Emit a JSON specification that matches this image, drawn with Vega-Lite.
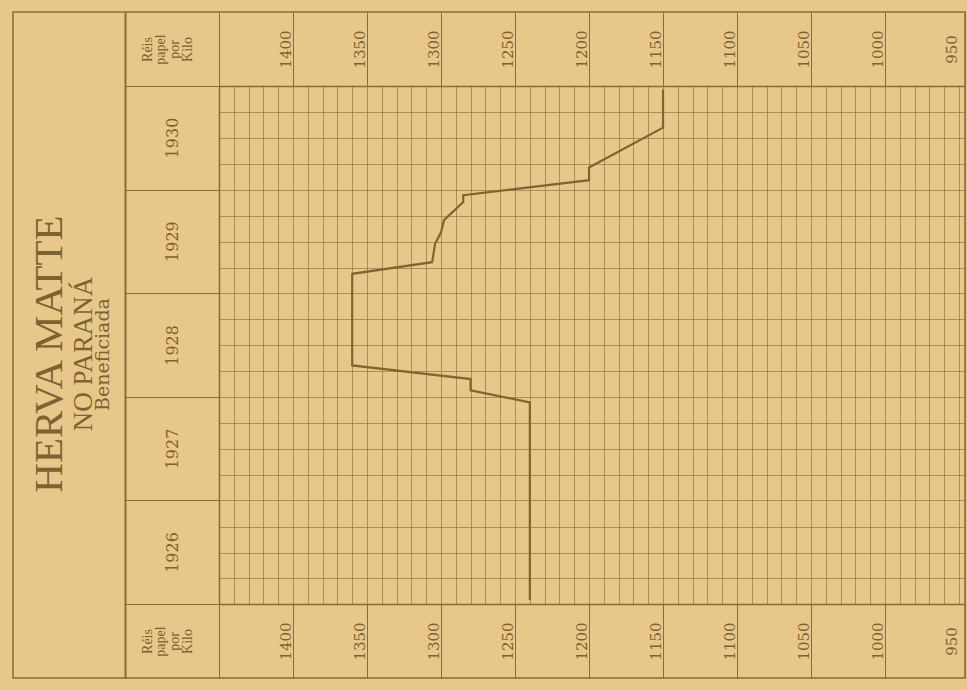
{
  "$schema": "https://vega.github.io/schema/vega-lite/v6.json",
  "width": 952,
  "height": 666,
  "autosize": "none",
  "padding": {"left": 13, "top": 12, "right": 2, "bottom": 12},
  "background": "#E8C88A",
  "title": {
    "text": "HERVA MATTE",
    "subtitle": "NO PARANÁ",
    "orient": "left",
    "anchor": "middle",
    "frame": "group",
    "offset": -85,
    "dx": -9,
    "font": "Liberation Serif",
    "fontSize": 41,
    "fontWeight": "normal",
    "color": "#7d6233",
    "subtitleFont": "Liberation Serif",
    "subtitleFontSize": 27,
    "subtitleColor": "#7d6233",
    "subtitlePadding": 0
  },
  "data": {
    "values": [
      {"date": "1926-01-15", "preco": 1240},
      {"date": "1927-12-13", "preco": 1240},
      {"date": "1928-01-24", "preco": 1280},
      {"date": "1928-03-04", "preco": 1280},
      {"date": "1928-04-21", "preco": 1360},
      {"date": "1929-03-10", "preco": 1360},
      {"date": "1929-04-20", "preco": 1306},
      {"date": "1929-06-24", "preco": 1304},
      {"date": "1929-08-03", "preco": 1300},
      {"date": "1929-09-15", "preco": 1298},
      {"date": "1929-11-18", "preco": 1285},
      {"date": "1929-12-12", "preco": 1285},
      {"date": "1930-02-03", "preco": 1200},
      {"date": "1930-03-20", "preco": 1200},
      {"date": "1930-08-07", "preco": 1150},
      {"date": "1930-12-20", "preco": 1150}
    ]
  },
  "resolve": {"axis": {"x": "independent", "y": "independent"}, "scale": {"y": "independent"}},
  "layer": [
    {
      "mark": {"type": "line", "color": "#836335", "strokeWidth": 2.2},
      "encoding": {
        "x": {
          "field": "preco",
          "type": "quantitative",
          "scale": {"domain": [1450, 946], "range": [206, 952], "nice": false, "zero": false},
          "axis": {
            "orient": "bottom",
            "offset": -74,
            "values": [1450,1440,1430,1420,1410,1400,1390,1380,1370,1360,1350,1340,1330,1320,1310,1300,1290,1280,1270,1260,1250,1240,1230,1220,1210,1200,1190,1180,1170,1160,1150,1140,1130,1120,1110,1100,1090,1080,1070,1060,1050,1040,1030,1020,1010,1000,990,980,970,960,950,946],
            "grid": true,
            "gridColor": "#8a6a38",
            "gridOpacity": 0.62,
            "gridWidth": 1,
            "domain": true,
            "domainColor": "#8a6a38",
            "domainWidth": 1.5,
            "ticks": true,
            "tickSize": 74,
            "tickColor": "#8a6a38",
            "tickWidth": 1,
            "tickOpacity": {"condition": {"test": "datum.value == 950 || (datum.value % 50 != 0 && datum.value != 946)", "value": 0}, "value": 1},
            "format": "d",
            "labelExpr": "datum.value % 50 == 0 && datum.value < 1450 ? datum.label : ''",
            "labelAngle": -90,
            "labelAlign": "center",
            "labelBaseline": "alphabetic",
            "labelPadding": -37,
            "labelOffset": -3,
            "labelFlush": false,
            "labelOverlap": false,
            "labelFont": "DejaVu Serif",
            "labelFontSize": 15,
            "labelColor": "#7d6233",
            "title": ["Réis", "papel", "por", "Kilo"],
            "titleX": 134,
            "titleY": 37,
            "titleAngle": -90,
            "titleAlign": "center",
            "titleBaseline": "middle",
            "titleFont": "Liberation Serif",
            "titleFontSize": 14,
            "titleFontWeight": "normal",
            "titleLineHeight": 13.5,
            "titleColor": "#7d6233"
          }
        },
        "y": {
          "field": "date",
          "type": "temporal",
          "scale": {
            "type": "utc",
            "domain": [{"year": 1926, "month": 1, "date": 1, "utc": true}, {"year": 1931, "month": 1, "date": 1, "utc": true}],
            "range": [592, 74],
            "nice": false
          },
          "axis": {
            "orient": "left",
            "offset": -206,
            "values": [
              {"year": 1926, "month": 1, "date": 1, "utc": true},
              {"year": 1926, "month": 4, "date": 1, "utc": true},
              {"year": 1926, "month": 7, "date": 1, "utc": true},
              {"year": 1926, "month": 10, "date": 1, "utc": true},
              {"year": 1927, "month": 1, "date": 1, "utc": true},
              {"year": 1927, "month": 4, "date": 1, "utc": true},
              {"year": 1927, "month": 7, "date": 1, "utc": true},
              {"year": 1927, "month": 10, "date": 1, "utc": true},
              {"year": 1928, "month": 1, "date": 1, "utc": true},
              {"year": 1928, "month": 4, "date": 1, "utc": true},
              {"year": 1928, "month": 7, "date": 1, "utc": true},
              {"year": 1928, "month": 10, "date": 1, "utc": true},
              {"year": 1929, "month": 1, "date": 1, "utc": true},
              {"year": 1929, "month": 4, "date": 1, "utc": true},
              {"year": 1929, "month": 7, "date": 1, "utc": true},
              {"year": 1929, "month": 10, "date": 1, "utc": true},
              {"year": 1930, "month": 1, "date": 1, "utc": true},
              {"year": 1930, "month": 4, "date": 1, "utc": true},
              {"year": 1930, "month": 7, "date": 1, "utc": true},
              {"year": 1930, "month": 10, "date": 1, "utc": true},
              {"year": 1931, "month": 1, "date": 1, "utc": true}
            ],
            "grid": true,
            "gridColor": "#8a6a38",
            "gridOpacity": 0.62,
            "gridWidth": 1,
            "domain": true,
            "domainColor": "#8a6a38",
            "domainWidth": 1.5,
            "ticks": true,
            "tickSize": 94,
            "tickColor": "#8a6a38",
            "tickWidth": 1,
            "tickOpacity": {"condition": {"test": "utcmonth(datum.value) != 0", "value": 0}, "value": 1},
            "labelExpr": "utcmonth(datum.value) == 0 && utcyear(datum.value) < 1931 ? utcFormat(datum.value, '%Y') : ''",
            "labelAngle": -90,
            "labelAlign": "center",
            "labelBaseline": "middle",
            "labelPadding": -47,
            "labelOffset": -52,
            "labelFlush": false,
            "labelOverlap": false,
            "labelFont": "DejaVu Serif",
            "labelFontSize": 16,
            "labelColor": "#7d6233",
            "title": null
          }
        },
        "order": {"field": "date", "type": "temporal"}
      }
    },
    {
      "mark": {"type": "line", "opacity": 0},
      "encoding": {
        "x": {
          "field": "preco",
          "type": "quantitative",
          "scale": {"domain": [1450, 946], "range": [206, 952], "nice": false, "zero": false},
          "axis": {
            "orient": "top",
            "offset": -74,
            "values": [1450, 1400, 1350, 1300, 1250, 1200, 1150, 1100, 1050, 1000, 950, 946],
            "grid": false,
            "domain": true,
            "domainColor": "#8a6a38",
            "domainWidth": 1.5,
            "ticks": true,
            "tickSize": 74,
            "tickColor": "#8a6a38",
            "tickWidth": 1,
            "tickOpacity": {"condition": {"test": "datum.value == 950", "value": 0}, "value": 1},
            "format": "d",
            "labelExpr": "datum.value % 50 == 0 && datum.value < 1450 ? datum.label : ''",
            "labelAngle": -90,
            "labelAlign": "center",
            "labelBaseline": "alphabetic",
            "labelPadding": -37,
            "labelOffset": -3,
            "labelFlush": false,
            "labelOverlap": false,
            "labelFont": "DejaVu Serif",
            "labelFontSize": 15,
            "labelColor": "#7d6233",
            "title": ["Réis", "papel", "por", "Kilo"],
            "titleX": 134,
            "titleY": -37,
            "titleAngle": -90,
            "titleAlign": "center",
            "titleBaseline": "middle",
            "titleFont": "Liberation Serif",
            "titleFontSize": 14,
            "titleFontWeight": "normal",
            "titleLineHeight": 13.5,
            "titleColor": "#7d6233"
          }
        },
        "y": {
          "field": "date",
          "type": "temporal",
          "scale": {
            "type": "utc",
            "domain": [{"year": 1926, "month": 1, "date": 1, "utc": true}, {"year": 1931, "month": 1, "date": 1, "utc": true}],
            "nice": false
          },
          "axis": {
            "orient": "left",
            "offset": -112,
            "grid": false,
            "domain": true,
            "domainColor": "#8a6a38",
            "domainWidth": 2,
            "ticks": false,
            "labels": false,
            "title": "Beneficiada",
            "titleX": -17,
            "titleY": 342,
            "titleAngle": -90,
            "titleAlign": "center",
            "titleBaseline": "alphabetic",
            "titleFont": "DejaVu Serif",
            "titleFontSize": 19,
            "titleFontWeight": "normal",
            "titleColor": "#7d6233"
          }
        },
        "order": {"field": "date", "type": "temporal"}
      }
    }
  ],
  "config": {
    "view": {"stroke": "#8a6a38", "strokeWidth": 1.5}
  }
}
